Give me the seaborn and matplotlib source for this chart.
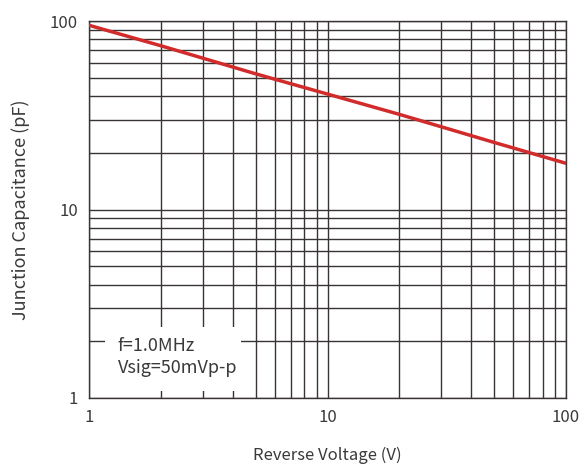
import numpy as np
import pandas as pd
import matplotlib
matplotlib.use("Agg")
import matplotlib.pyplot as plt
import seaborn as sns
from matplotlib.patches import Rectangle

# data
voltage = [1, 2, 5, 10, 20, 50, 100]
capacitance = [95, 74, 52.5, 41, 32, 22.7, 17.6]
x_ticks = [1, 10, 100]
y_ticks = [1, 10, 100]

sns.set_style("white")
plt.rcParams['font.family'] = ['Noto Sans CJK SC', 'DejaVu Sans']

df = pd.DataFrame({"Voltage": voltage, "Capacitance": capacitance})

fig = plt.figure(figsize=(5.82, 4.69), dpi=100)
ax = fig.add_axes([0.153, 0.1514, 0.8195, 0.8036])

ax.set_xscale("log")
ax.set_yscale("log")
ax.set_xlim(1, 100)
ax.set_ylim(1, 100)

ax.grid(True, which="both", color="#3a3333", linewidth=1.0, zorder=1)
ax.set_axisbelow(True)

# annotation box hides grid lines behind it
ax.add_patch(Rectangle((0.033, 0.019), 0.285, 0.17, transform=ax.transAxes,
                       facecolor="white", edgecolor="none", zorder=2))
ax.text(0.06, 0.163, "f=1.0MHz\nVsig=50mVp-p", transform=ax.transAxes,
        fontsize=13, color="#3a3a3a", va="top", ha="left", linespacing=1.35, zorder=3)

sns.lineplot(data=df, x="Voltage", y="Capacitance", ax=ax,
             color="#d22b2b", linewidth=2.5, zorder=4)

ax.set_xticks(x_ticks)
ax.set_xticklabels([str(t) for t in x_ticks])
ax.set_yticks(y_ticks)
ax.set_yticklabels([str(t) for t in y_ticks])
ax.tick_params(axis="both", which="both", length=0, labelsize=12,
               labelcolor="#3a3a3a", pad=8)
ax.xaxis.set_minor_formatter(matplotlib.ticker.NullFormatter())
ax.yaxis.set_minor_formatter(matplotlib.ticker.NullFormatter())

for s in ax.spines.values():
    s.set_color("#3a3333")
    s.set_linewidth(1.0)

ax.set_xlabel("Reverse Voltage (V)", fontsize=12, color="#3a3a3a", labelpad=15)
ax.set_ylabel("Junction Capacitance (pF)", fontsize=13, color="#3a3a3a", labelpad=14)

fig.savefig("out.png", dpi=100)
